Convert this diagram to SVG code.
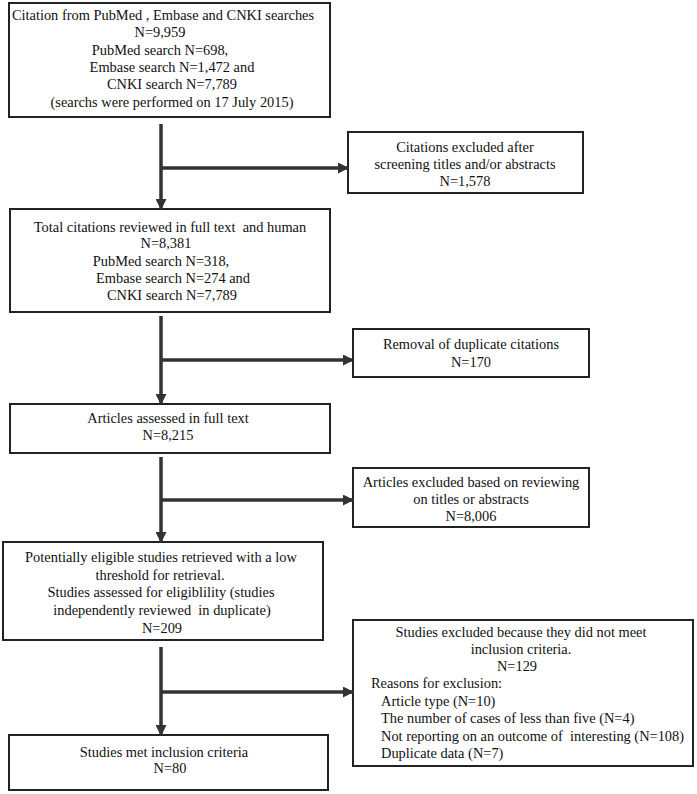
<svg xmlns="http://www.w3.org/2000/svg" width="697" height="794" viewBox="0 0 697 794">
<defs>
<style>
.box{fill:#fff;stroke:#222;stroke-width:2}
.t{font-family:"Liberation Serif","Times New Roman",serif;font-size:14.4px;fill:#111;text-anchor:middle}
.l{text-anchor:start}
.p{white-space:pre}
.c{stroke:#333;stroke-width:3.5;fill:none}
</style>
<marker id="ah" markerUnits="userSpaceOnUse" markerWidth="11" markerHeight="11" refX="10" refY="5.5" orient="auto" viewBox="0 0 11 11">
<path d="M0,0 L11,5.5 L0,11 z" fill="#333"/>
</marker>
</defs>
<rect width="697" height="794" fill="#fff"/>

<g id="n1">
<rect class="box" x="9" y="3" width="321" height="114"/>
<text class="t" x="163" y="20">Citation from PubMed , Embase and CNKI searches</text>
<text class="t" x="160" y="37">N=9,959</text>
<text class="t" x="160" y="55">PubMed search N=698,</text>
<text class="t" x="172" y="72">Embase search N=1,472 and</text>
<text class="t" x="172" y="89">CNKI search N=7,789</text>
<text class="t" x="172" y="107">(searchs were performed on 17 July 2015)</text>
</g>

<g id="n2">
<rect class="box" x="348" y="132" width="235" height="61"/>
<text class="t" x="465" y="152">Citations excluded after</text>
<text class="t" x="465" y="169">screening titles and/or abstracts</text>
<text class="t" x="465" y="186">N=1,578</text>
</g>

<g id="n3">
<rect class="box" x="10" y="209" width="320" height="103"/>
<text class="t p" xml:space="preserve" x="170" y="232">Total citations reviewed in full text  and human</text>
<text class="t" x="166" y="248">N=8,381</text>
<text class="t" x="161" y="266">PubMed search N=318,</text>
<text class="t" x="173" y="283">Embase search N=274 and</text>
<text class="t" x="172" y="300">CNKI search N=7,789</text>
</g>

<g id="n4">
<rect class="box" x="353" y="329" width="236" height="48"/>
<text class="t" x="471" y="349">Removal of duplicate citations</text>
<text class="t" x="471" y="367">N=170</text>
</g>

<g id="n5">
<rect class="box" x="10" y="404" width="320" height="49"/>
<text class="t" x="168" y="423">Articles assessed in full text</text>
<text class="t" x="168" y="440">N=8,215</text>
</g>

<g id="n6">
<rect class="box" x="353" y="468" width="236" height="59"/>
<text class="t" x="471" y="487">Articles excluded based on reviewing</text>
<text class="t" x="471" y="504">on titles or abstracts</text>
<text class="t" x="471" y="521">N=8,006</text>
</g>

<g id="n7">
<rect class="box" x="3" y="542" width="320" height="98"/>
<text class="t" x="161" y="562">Potentially eligible studies retrieved with a low</text>
<text class="t" x="160" y="580">threshold for retrieval.</text>
<text class="t" x="161" y="597">Studies assessed for eligiblility (studies</text>
<text class="t p" xml:space="preserve" x="162" y="615">independently reviewed  in duplicate)</text>
<text class="t" x="162" y="633">N=209</text>
</g>

<g id="n8">
<rect class="box" x="353" y="620" width="340" height="146"/>
<text class="t" x="521" y="637">Studies excluded because they did not meet</text>
<text class="t" x="521" y="654">inclusion criteria.</text>
<text class="t" x="517" y="671">N=129</text>
<text class="t l" x="371" y="688">Reasons for exclusion:</text>
<text class="t l" x="381" y="706">Article type (N=10)</text>
<text class="t l" x="381" y="723">The number of cases of less than five (N=4)</text>
<text class="t l p" xml:space="preserve" x="381" y="741">Not reporting on an outcome of  interesting (N=108)</text>
<text class="t l" x="381" y="758">Duplicate data (N=7)</text>
</g>

<g id="n9">
<rect class="box" x="9" y="735" width="319" height="55"/>
<text class="t" x="164" y="757">Studies met inclusion criteria</text>
<text class="t" x="170" y="773">N=80</text>
</g>

<g id="connectors">
<line class="c" x1="161" y1="124" x2="161" y2="209" marker-end="url(#ah)"/>
<line class="c" x1="161" y1="168" x2="348" y2="168" marker-end="url(#ah)"/>
<line class="c" x1="161" y1="316" x2="161" y2="404" marker-end="url(#ah)"/>
<line class="c" x1="161" y1="360" x2="353" y2="360" marker-end="url(#ah)"/>
<line class="c" x1="161" y1="457" x2="161" y2="542" marker-end="url(#ah)"/>
<line class="c" x1="161" y1="500" x2="353" y2="500" marker-end="url(#ah)"/>
<line class="c" x1="161" y1="647" x2="161" y2="735" marker-end="url(#ah)"/>
<line class="c" x1="161" y1="692" x2="353" y2="692" marker-end="url(#ah)"/>
</g>
</svg>
